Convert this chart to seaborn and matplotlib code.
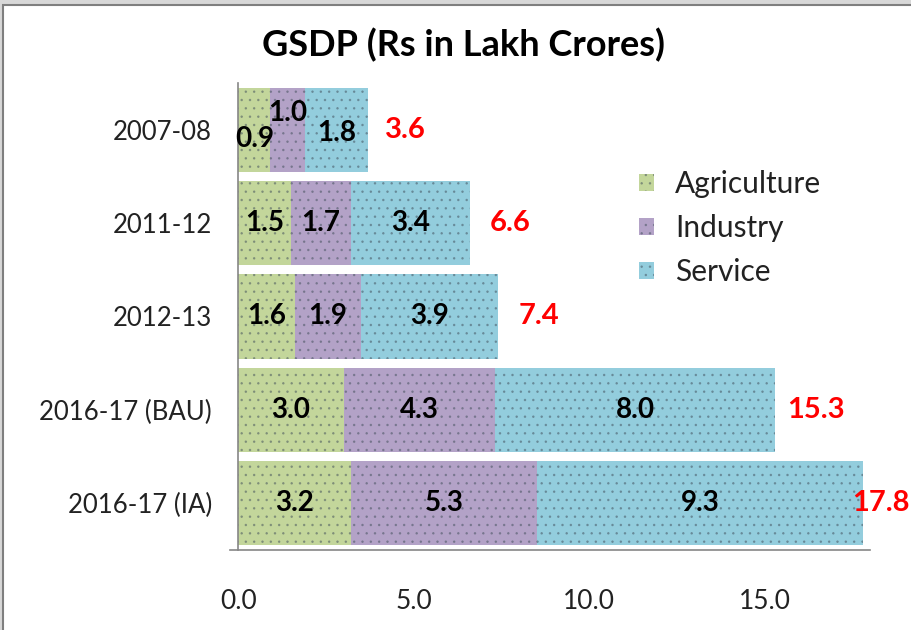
import matplotlib
matplotlib.use('Agg')
import matplotlib.pyplot as plt
import seaborn as sns
import pandas as pd
from matplotlib.patches import Rectangle, Patch

# ---- data ----
years = ["2007-08", "2011-12", "2012-13", "2016-17 (BAU)", "2016-17 (IA)"]
agriculture = [0.9, 1.5, 1.6, 3.0, 3.2]
industry = [1.0, 1.7, 1.9, 4.3, 5.3]
service = [1.8, 3.4, 3.9, 8.0, 9.3]
totals = [3.6, 6.6, 7.4, 15.3, 17.8]
x_ticks = [0, 5, 10, 15]
x_tick_labels = ["0.0", "5.0", "10.0", "15.0"]
title = "GSDP (Rs in Lakh Crores)"

sns.set_theme(style="white")
plt.rcParams['font.family'] = ['Lato', 'DejaVu Sans']
plt.rcParams['hatch.linewidth'] = 0.6

df = pd.DataFrame({"Year": years, "Agriculture": agriculture,
                   "Industry": industry, "Service": service})
df["c1"] = df["Agriculture"]
df["c2"] = df["c1"] + df["Industry"]
df["c3"] = df["c2"] + df["Service"]

colors = {"Agriculture": "#c3d69b", "Industry": "#b3a2c7", "Service": "#93cddd"}
dot_color = (0.25, 0.3, 0.35, 0.4)

fig = plt.figure(figsize=(9.11, 6.3), dpi=100)
fig.patch.set_facecolor("#d8d8d8")
fig.patches.append(Rectangle((3 / 911, -0.1), 1.0, 1 - 5 / 630 + 0.1,
                             transform=fig.transFigure, facecolor="white",
                             edgecolor="#7f7f7f", lw=1.5, zorder=-10))

ax = fig.add_axes([238.5 / 911, 1 - 550 / 630, (870 - 238.5) / 911, (550 - 83) / 630])
ax.set_zorder(5)
ax.set_facecolor("none")

for col, name in [("c3", "Service"), ("c2", "Industry"), ("c1", "Agriculture")]:
    sns.barplot(data=df, y="Year", x=col, color=colors[name], orient="h",
                width=0.9, ax=ax, saturation=1, errorbar=None, linewidth=0)

for p in ax.patches:
    p.set_hatch("..")
    p.set_edgecolor(dot_color)
    p.set_linewidth(0)

ax.set_xlim(0, 18)
ax.set_ylim(4.5, -0.5)
ax.set_xlabel("")
ax.set_ylabel("")

for s in ["top", "right"]:
    ax.spines[s].set_visible(False)
for s in ["left", "bottom"]:
    ax.spines[s].set_color("#868686")
    ax.spines[s].set_linewidth(1.2)
ax.spines["bottom"].set_bounds(-0.25, 18)

ax.set_xticks(x_ticks)
ax.set_xticklabels(x_tick_labels)
ax.tick_params(axis="x", direction="out", length=8, color="#868686", width=1.2,
               labelsize=19, pad=20, labelcolor="#222222")
ax.set_yticks(range(len(years)))
ax.set_yticklabels(years)
ax.set_yticks([i - 0.5 for i in range(len(years) + 1)], minor=True)
ax.tick_params(axis="y", which="major", length=0, labelsize=18.5, pad=19, labelcolor="#222222")
ax.tick_params(axis="y", which="minor", length=8, color="#868686", width=1.2, direction="out")

# segment labels
y_adj = {0: {"Agriculture": 0.1, "Industry": -0.18, "Service": 0.04}}
for i in range(len(years)):
    starts = [0, df["c1"][i], df["c2"][i]]
    for name, st in zip(["Agriculture", "Industry", "Service"], starts):
        v = df[name][i]
        dy = y_adj.get(i, {}).get(name, 0)
        ax.text(st + v / 2, i + dy, f"{v:.1f}", ha="center", va="center",
                fontsize=20, fontweight="bold", color="black")
    tx = min(totals[i] + 1.15, 18.3)
    ax.text(tx, i, f"{totals[i]:.1f}", ha="center", va="center",
            fontsize=21, fontweight="bold", color="#ff0000", clip_on=False)

handles = [Patch(facecolor=colors[n], hatch="..", edgecolor=dot_color, linewidth=0, label=n)
           for n in ["Agriculture", "Industry", "Service"]]
leg = ax.legend(handles=handles, loc="upper left", bbox_to_anchor=(0.592, 0.872),
                frameon=False, fontsize=21.5, handlelength=0.5, handleheight=0.5,
                handletextpad=0.7, labelspacing=0.55, labelcolor="#222222")

fig.text(464 / 911, 1 - 45 / 630, title, ha="center", va="center",
         fontsize=26, fontweight="bold", color="black")

fig.savefig("out.png", dpi=100, facecolor=fig.get_facecolor())
